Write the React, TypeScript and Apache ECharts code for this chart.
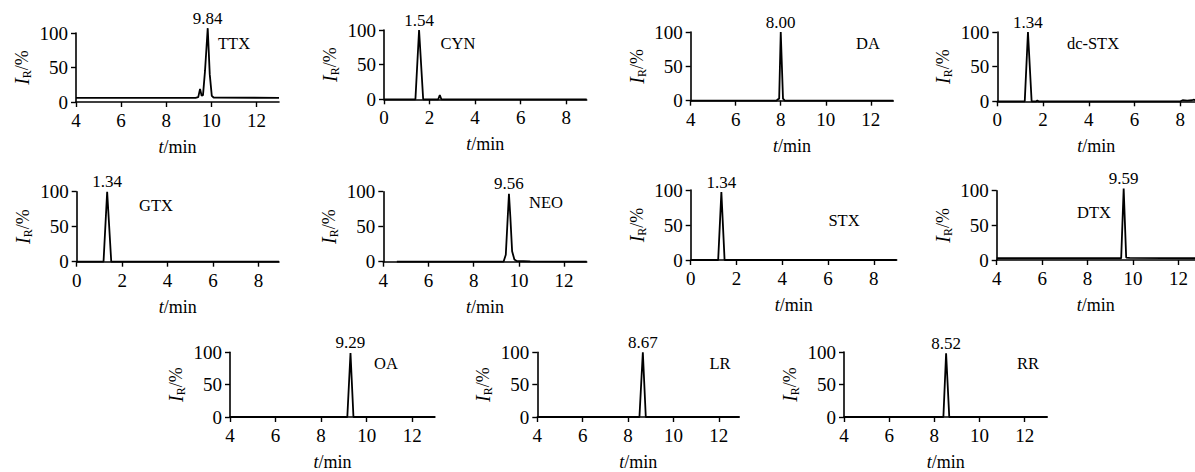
import React, { useEffect, useRef } from "react";
import * as echarts from "echarts";

const FONT = "Liberation Serif";

// chromatogram traces: [t (min), relative intensity (%)]
const ttx = [[4, 6], [9.3, 6], [9.42, 7], [9.5, 19], [9.57, 9], [9.63, 10], [9.72, 45], [9.84, 107], [9.93, 40], [10.02, 9], [10.1, 6.5], [13, 6]];
const cyn = [[0, 0], [1.38, 0], [1.54, 100], [1.72, 0], [2.38, 0], [2.45, 6], [2.52, 0], [8.9, 0]];
const da = [[4, 0], [7.8, 0], [7.88, 2], [7.93, 3], [8.0, 100], [8.1, 3], [8.18, 0], [13, 0]];
const dcstx = [[0, 0], [1.2, 0], [1.34, 100], [1.5, 0], [1.7, 0], [1.75, 1], [1.8, 0], [8.0, 0], [8.1, 1.5], [8.3, 1], [8.5, 1.5], [8.6, 2.5], [8.64, 1]];
const gtx = [[0, 0], [1.18, 0], [1.34, 100], [1.52, 0], [8.9, 0]];
const neo = [[4.6, 0], [9.32, 0], [9.42, 10], [9.5, 60], [9.56, 97], [9.62, 65], [9.7, 15], [9.8, 3], [9.9, 1], [10.5, 0.5], [13, 0]];
const stx = [[0, 0], [1.2, 0], [1.34, 97], [1.48, 0], [9, 0]];
const dtx = [[4, 2.5], [9.48, 2.5], [9.59, 103], [9.7, 3.5], [9.85, 3], [12.73, 2.5]];
const oa = [[4, 0], [9.15, 0], [9.29, 99], [9.42, 0], [13, 0]];
const lr = [[4, 0], [8.5, 0], [8.65, 100], [8.78, 0], [12.9, 0]];
const rr = [[4, 0], [8.4, 0], [8.52, 98], [8.66, 0], [13, 0]];

const names = ["TTX", "CYN", "DA", "dc-STX", "GTX", "NEO", "STX", "DTX", "OA", "LR", "RR"];
const traces = [ttx, cyn, da, dcstx, gtx, neo, stx, dtx, oa, lr, rr];
const peakTimes = [9.84, 1.54, 8.0, 1.34, 1.34, 9.56, 1.34, 9.59, 9.29, 8.65, 8.52];
const peakHeights = [107, 100, 100, 100, 100, 97, 97, 103, 99, 100, 98];
const peakLabels = ["9.84", "1.54", "8.00", "1.34", "1.34", "9.56", "1.34", "9.59", "9.29", "8.67", "8.52"];
const xRanges = [[4, 13], [0, 8.9], [4, 13], [0, 8.64], [0, 8.9], [4, 13], [0, 9], [4, 12.73], [4, 13], [4, 12.9], [4, 13]];
const ticksFrom4 = [4, 6, 8, 10, 12];
const ticksFrom0 = [0, 2, 4, 6, 8];
const yTicks = [0, 50, 100];

// layout (pixels)
const grids = [
  { left: 76, top: 33, width: 203, height: 69 },
  { left: 384, top: 30, width: 202.7, height: 69.3 },
  { left: 690.7, top: 32, width: 202.6, height: 68.7 },
  { left: 997.3, top: 32, width: 197.7, height: 69.3 },
  { left: 76.7, top: 191.7, width: 202.3, height: 70 },
  { left: 383.3, top: 191.7, width: 203.4, height: 70 },
  { left: 690.7, top: 190, width: 206, height: 70 },
  { left: 996.7, top: 190.7, width: 198.3, height: 69.3 },
  { left: 230, top: 352.3, width: 205, height: 69.4 },
  { left: 537.3, top: 352.3, width: 202, height: 69.4 },
  { left: 844, top: 352, width: 203.3, height: 69 },
];
const namePos = [
  [234, 43], [458, 43], [868, 43], [1093, 43],
  [156, 205], [546, 202], [844, 220], [1094, 212],
  [386, 363], [720, 363], [1028, 363],
];

export default function App() {
  const ref = useRef<HTMLDivElement>(null);
  useEffect(() => {
    if (!ref.current) return;
    const chart = echarts.init(ref.current, undefined, { renderer: "svg" });
    const axisColor = "#000";
    const txt = { fontFamily: FONT, fontSize: 19, color: "#000", opacity: 1 };
    const option: any = {
      animation: false,
      backgroundColor: "#fff",
      textStyle: { fontFamily: FONT, color: "#000", fontSize: 19 },
      grid: grids.map((g) => ({ ...g, containLabel: false })),
      xAxis: traces.map((_, i) => {
        const ticks = xRanges[i][0] === 0 ? ticksFrom0 : ticksFrom4;
        return {
          gridIndex: i,
          type: "value",
          min: xRanges[i][0],
          max: xRanges[i][1],
          axisLine: { show: true, onZero: false, lineStyle: { color: axisColor, width: 1.6 } },
          axisTick: { show: true, customValues: ticks, length: 5, lineStyle: { color: axisColor, width: 1.4 } },
          axisLabel: { ...txt, customValues: ticks, margin: 9 },
          splitLine: { show: false },
          name: "{i|t}{n|/min}",
          nameLocation: "middle",
          nameGap: 36,
          nameTextStyle: {
            ...txt,
            rich: {
              i: { ...txt, fontSize: 18, fontStyle: "italic" },
              n: { ...txt, fontSize: 18 },
            },
          },
        };
      }),
      yAxis: traces.map((_, i) => ({
        gridIndex: i,
        type: "value",
        min: 0,
        max: 100,
        interval: 50,
        axisLine: { show: true, onZero: false, lineStyle: { color: axisColor, width: 1.6 } },
        axisTick: { show: true, customValues: yTicks, length: 5, lineStyle: { color: axisColor, width: 1.4 } },
        axisLabel: { ...txt, customValues: yTicks, margin: 8 },
        splitLine: { show: false },
        name: "{i|I}{s|R}{n|/%}",
        nameLocation: "middle",
        nameRotate: 90,
        nameGap: 43,
        nameTextStyle: {
          ...txt,
          rich: {
            i: { ...txt, fontSize: 20, fontStyle: "italic", lineHeight: 22, verticalAlign: "middle" },
            s: { ...txt, fontSize: 12, lineHeight: 12, verticalAlign: "bottom" },
            n: { ...txt, fontSize: 18, lineHeight: 22, verticalAlign: "middle" },
          },
        },
      })),
      series: [
        ...traces.map((d, i) => ({
          type: "line",
          xAxisIndex: i,
          yAxisIndex: i,
          data: d,
          symbol: "none",
          showSymbol: false,
          clip: false,
          silent: true,
          lineStyle: { color: "#000", width: 1.8 },
        })),
        ...traces.map((_, i) => ({
          type: "scatter",
          xAxisIndex: i,
          yAxisIndex: i,
          data: [[peakTimes[i], peakHeights[i]]],
          symbolSize: 1,
          clip: false,
          silent: true,
          itemStyle: { color: "rgba(0,0,0,0)" },
          label: {
            ...txt,
            fontSize: 17,
            show: true,
            position: "top",
            distance: 1,
            formatter: peakLabels[i],
          },
        })),
      ],
      graphic: names.map((n, i) => ({
        type: "text",
        x: namePos[i][0],
        y: namePos[i][1],
        silent: true,
        style: {
          text: n,
          fontSize: 16.5,
          fontFamily: FONT,
          fill: "#000",
          align: "center",
          verticalAlign: "middle",
        },
      })),
    };
    chart.setOption(option);
    return () => chart.dispose();
  }, []);
  return (
    <div
      ref={ref}
      style={{ position: "absolute", left: 0, top: 0, width: 1195, height: 472 }}
    />
  );
}
